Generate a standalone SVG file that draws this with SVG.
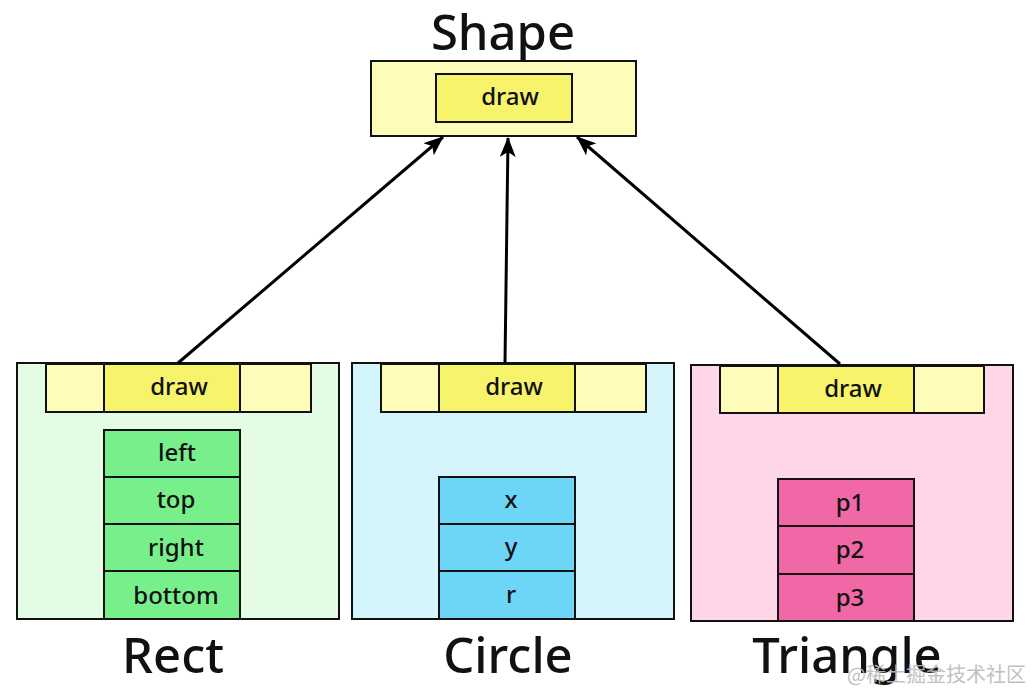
<svg xmlns="http://www.w3.org/2000/svg" width="1032" height="691" viewBox="0 0 1032 691">
<style>
  .n rect { stroke: #111; stroke-width: 2; }
  .t { font-family: "Noto Sans", "Open Sans", sans-serif; fill: #111; text-anchor: middle; font-weight: 500; }
  .f { font-size: 24px; }
  .title { font-size: 49px; }
  .bar { fill: #FFFBB8; }
  .dr { fill: #F7F36A; }
  .g { fill: #77F08C; }
  .b { fill: #6DD6F6; }
  .p { fill: #F068A5; }
</style>
<defs>
  <marker id="arr" viewBox="0 0 20 16" refX="19" refY="8" markerWidth="20" markerHeight="16" orient="auto" markerUnits="userSpaceOnUse">
    <path d="M0,0 L20,8 L0,16 L5,8 Z" fill="#000"/>
  </marker>
</defs>
<rect width="1032" height="691" fill="#fff"/>

<g id="shape" class="n">
  <text class="t title" x="503" y="50">Shape</text>
  <rect x="371" y="61" width="265" height="75" class="bar"/>
  <rect x="436" y="74" width="136" height="48" class="dr"/>
  <text class="t f" x="510" y="105">draw</text>
</g>

<g id="rect" class="n">
  <rect x="17" y="363" width="322" height="256" fill="#E3FCE3"/>
  <rect x="46" y="364" width="265" height="48" class="bar"/>
  <rect x="104" y="364" width="136" height="48" class="dr"/>
  <text class="t f" x="179" y="395">draw</text>
  <rect x="104" y="430" width="136" height="47" class="g"/>
  <rect x="104" y="477" width="136" height="47" class="g"/>
  <rect x="104" y="524" width="136" height="47" class="g"/>
  <rect x="104" y="571" width="136" height="48" class="g"/>
  <text class="t f" x="177" y="461">left</text>
  <text class="t f" x="176" y="508">top</text>
  <text class="t f" x="176" y="556">right</text>
  <text class="t f" x="176" y="604">bottom</text>
  <text class="t title" x="173" y="673">Rect</text>
</g>

<g id="circle" class="n">
  <rect x="352" y="363" width="322" height="256" fill="#D5F5FD"/>
  <rect x="381" y="364" width="265" height="48" class="bar"/>
  <rect x="439" y="364" width="136" height="48" class="dr"/>
  <text class="t f" x="514" y="395">draw</text>
  <rect x="439" y="477" width="136" height="47" class="b"/>
  <rect x="439" y="524" width="136" height="47" class="b"/>
  <rect x="439" y="571" width="136" height="48" class="b"/>
  <text class="t f" x="511" y="508">x</text>
  <text class="t f" x="511" y="555">y</text>
  <text class="t f" x="511" y="603">r</text>
  <text class="t title" x="508" y="673">Circle</text>
</g>

<g id="triangle" class="n">
  <rect x="691" y="365" width="322" height="256" fill="#FFD6E8"/>
  <rect x="720" y="366" width="264" height="47" class="bar"/>
  <rect x="778" y="366" width="136" height="47" class="dr"/>
  <text class="t f" x="853" y="397">draw</text>
  <rect x="778" y="479" width="136" height="47" class="p"/>
  <rect x="778" y="526" width="136" height="48" class="p"/>
  <rect x="778" y="574" width="136" height="47" class="p"/>
  <text class="t f" x="850" y="511">p1</text>
  <text class="t f" x="850" y="558">p2</text>
  <text class="t f" x="850" y="606">p3</text>
  <text class="t title" x="847" y="673">Triangle</text>
</g>

<g id="connectors" stroke="#000" stroke-width="3" fill="none">
  <line x1="178" y1="363" x2="443" y2="137" marker-end="url(#arr)"/>
  <line x1="505" y1="363" x2="508" y2="138" marker-end="url(#arr)"/>
  <line x1="840" y1="364" x2="577" y2="137" marker-end="url(#arr)"/>
</g>

<text x="1026" y="682" font-family="'Noto Sans CJK SC', sans-serif" font-size="20" fill="#bbb" text-anchor="end" opacity="0.9">@稀土掘金技术社区</text>
</svg>
